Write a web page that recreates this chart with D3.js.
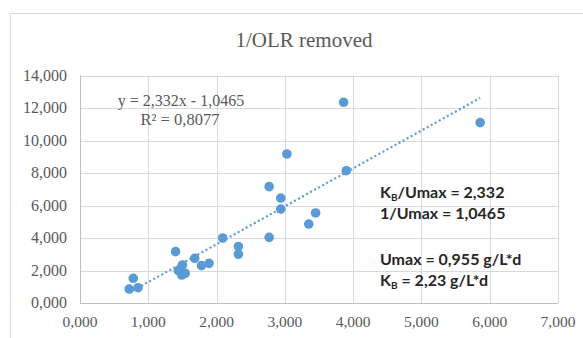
<!DOCTYPE html>
<html>
<head>
<meta charset="utf-8">
<script src="https://cdn.jsdelivr.net/npm/d3@7"></script>
<style>
  body { margin: 0; background: #fff; }
  svg { display: block; }
</style>
</head>
<body>
<svg id="chart" width="583" height="338"></svg>
<script>
// data
const xValues = [3.86, 5.86, 3.03, 3.90, 2.77, 2.94, 2.94, 3.45, 3.35, 2.77, 2.32, 2.32, 2.09,
                 1.40, 1.68, 1.89, 1.78, 1.50, 1.44, 1.54, 1.49, 0.78, 0.72, 0.85]
const yValues = [12.35, 11.10, 9.17, 8.14, 7.16, 6.46, 5.78, 5.54, 4.86, 4.04, 3.48, 3.00, 4.00,
                 3.16, 2.75, 2.44, 2.30, 2.34, 1.99, 1.83, 1.72, 1.52, 0.86, 0.94]
const xTicks = [0, 1, 2, 3, 4, 5, 6, 7]
const xTickLabels = ["0,000", "1,000", "2,000", "3,000", "4,000", "5,000", "6,000", "7,000"]
const yTicks = [0, 2, 4, 6, 8, 10, 12, 14]
const yTickLabels = ["0,000", "2,000", "4,000", "6,000", "8,000", "10,000", "12,000", "14,000"]
const trendSlope = 2.332
const trendIntercept = -1.0465
const equationLines = ["y = 2,332x - 1,0465", "R² = 0,8077"]

const blue = "#5b9bd5"
const svg = d3.select("#chart")

// chart area border (cut off at right / bottom like the source)
svg.append("rect")
    .attr("x", 10.5).attr("y", 13.5)
    .attr("width", 600).attr("height", 340)
    .attr("fill", "#fff")
    .attr("stroke", "#d9d9d9")

const x = d3.scaleLinear().domain([0, 7]).range([80, 558])
const y = d3.scaleLinear().domain([0, 14]).range([303, 75.5])

// gridlines
const g = svg.append("g")
g.selectAll(".vgrid").data(xTicks).enter().append("line")
    .attr("x1", d => Math.round(x(d)) + 0.5).attr("x2", d => Math.round(x(d)) + 0.5)
    .attr("y1", y(14)).attr("y2", y(0))
    .attr("stroke", "#d9d9d9")
g.selectAll(".hgrid").data(yTicks).enter().append("line")
    .attr("x1", x(0)).attr("x2", x(7))
    .attr("y1", d => Math.round(y(d)) + 0.5).attr("y2", d => Math.round(y(d)) + 0.5)
    .attr("stroke", "#d9d9d9")

// axes lines
svg.append("line")
    .attr("x1", Math.round(x(0)) + 0.5).attr("x2", Math.round(x(0)) + 0.5)
    .attr("y1", y(14)).attr("y2", y(0))
    .attr("stroke", "#bfbfbf")
svg.append("line")
    .attr("x1", x(0)).attr("x2", x(7))
    .attr("y1", Math.round(y(0)) + 0.5).attr("y2", Math.round(y(0)) + 0.5)
    .attr("stroke", "#bfbfbf")

// tick labels
svg.selectAll(".xlab").data(xTicks).enter().append("text")
    .attr("x", d => x(d)).attr("y", 327)
    .attr("text-anchor", "middle")
    .attr("font-family", "Liberation Serif")
    .attr("font-size", 15.5)
    .attr("fill", "#595959")
    .text((d, i) => xTickLabels[i])
svg.selectAll(".ylab").data(yTicks).enter().append("text")
    .attr("x", 67).attr("y", d => y(d) + 5)
    .attr("text-anchor", "end")
    .attr("font-family", "Liberation Serif")
    .attr("font-size", 16)
    .attr("fill", "#595959")
    .text((d, i) => yTickLabels[i])

// title
svg.append("text")
    .attr("x", 304).attr("y", 47)
    .attr("text-anchor", "middle")
    .attr("font-family", "Liberation Serif")
    .attr("font-size", 21)
    .attr("fill", "#595959")
    .text("1/OLR removed")

// trendline
const xMin = d3.min(xValues), xMax = d3.max(xValues)
const trend = d3.line().x(d => x(d)).y(d => y(trendSlope * d + trendIntercept))
svg.append("path")
    .attr("d", trend([xMin, xMax]))
    .attr("fill", "none")
    .attr("stroke", blue)
    .attr("stroke-width", 2.2)
    .attr("stroke-dasharray", "2,2.6")

// points
svg.selectAll(".pt").data(xValues).enter().append("circle")
    .attr("cx", d => x(d))
    .attr("cy", (d, i) => y(yValues[i]))
    .attr("r", 4.8)
    .attr("fill", blue)

// trendline label
svg.append("text")
    .attr("x", 181).attr("y", 106)
    .attr("text-anchor", "middle")
    .attr("font-family", "Liberation Serif")
    .attr("font-size", 16)
    .attr("fill", "#595959")
    .text(equationLines[0])
svg.append("text")
    .attr("x", 180).attr("y", 125)
    .attr("text-anchor", "middle")
    .attr("font-family", "Liberation Serif")
    .attr("font-size", 16.5)
    .attr("fill", "#595959")
    .text(equationLines[1])

// constants box text
const note = svg.append("g")
    .attr("font-family", "Lato")
    .attr("font-weight", 700)
    .attr("font-size", 16)
    .attr("fill", "#262626")
const t1 = note.append("text").attr("x", 380).attr("y", 198)
t1.append("tspan").text("K")
t1.append("tspan").attr("font-size", 10).attr("dy", 3).text("B")
t1.append("tspan").attr("dy", -3).text("/Umax = 2,332")
note.append("text").attr("x", 380).attr("y", 219).text("1/Umax = 1,0465")
note.append("text").attr("x", 380).attr("y", 265).text("Umax = 0,955 g/L*d")
const t4 = note.append("text").attr("x", 380).attr("y", 286)
t4.append("tspan").text("K")
t4.append("tspan").attr("font-size", 10).attr("dy", 3).text("B")
t4.append("tspan").attr("dy", -3).text(" = 2,23 g/L*d")
</script>
</body>
</html>
